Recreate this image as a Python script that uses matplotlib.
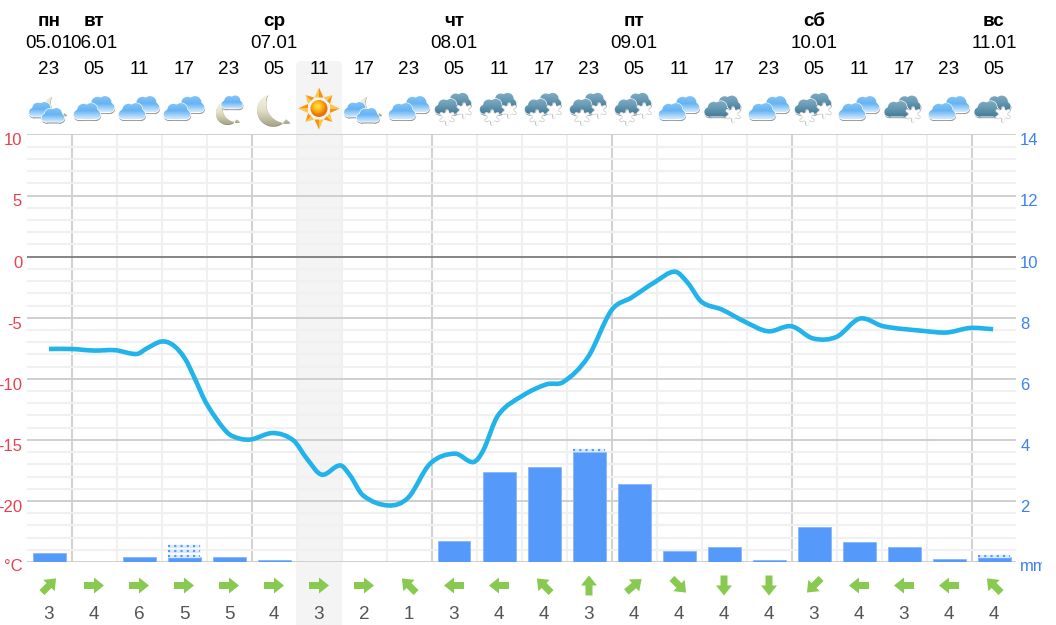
#!/usr/bin/python3

import matplotlib
matplotlib.use('Agg')
import matplotlib.pyplot as plt
from matplotlib.colors import LinearSegmentedColormap
from matplotlib.patches import FancyBboxPatch, PathPatch, Polygon, Rectangle
from matplotlib.path import Path
from matplotlib.transforms import ScaledTranslation
import numpy as np

plt.rcParams['font.family'] = ['Liberation Sans', 'DejaVu Sans']

hours = ['23', '05', '11', '17', '23', '05', '11', '17', '23', '05', '11',
         '17', '23', '05', '11', '17', '23', '05', '11', '17', '23', '05']
day_columns = [0, 1, 5, 9, 13, 17, 21]
day_names = ['пн', 'вт', 'ср', 'чт', 'пт', 'сб', 'вс']
day_dates = ['05.01', '06.01', '07.01', '08.01', '09.01', '10.01', '11.01']

icons = ['cloud_moon', 'cloud', 'cloud', 'cloud', 'moon_cloud', 'moon', 'sun',
         'cloud_moon', 'cloud', 'snow', 'snow', 'snow', 'snow', 'snow', 'cloud',
         'flake', 'cloud', 'snow', 'cloud', 'flake', 'cloud', 'flake']

# temperature: position in columns, degrees
temp_pos = [0.0, 0.50, 1.0, 1.47, 1.95, 2.17, 2.50, 2.76, 3.02, 3.24, 3.50, 3.95,
            4.24, 4.50, 4.98, 5.43, 5.73, 6.06, 6.47, 6.69, 6.98, 7.54, 7.98,
            8.47, 9.02, 9.43, 9.65, 9.98, 10.54, 11.06, 11.43, 11.98, 12.50,
            12.95, 13.47, 13.91, 14.2, 14.50, 14.95, 15.47, 15.98, 16.50,
            16.98, 17.50, 18.02, 18.54, 19.43, 19.95, 20.47, 20.98]
temp_val = [-7.56, -7.56, -7.69, -7.66, -7.97, -7.52, -6.95, -7.25, -8.34, -9.98,
            -12.03, -14.36, -14.90, -14.96, -14.44, -15.04, -16.54, -17.85,
            -17.09, -17.91, -19.55, -20.37, -19.74, -16.95, -16.13, -16.82,
            -15.86, -12.99, -11.35, -10.45, -10.26, -8.21, -4.39, -3.34, -2.07,
            -1.23, -2.17, -3.70, -4.33, -5.34, -6.11, -5.70, -6.70, -6.57, -5.07,
            -5.70, -6.08, -6.21, -5.84, -5.94]

rain_mm = [0.30, 0, 0.16, 0.15, 0.16, 0.05, 0, 0, 0, 0.69, 2.95,
           3.10, 3.60, 2.56, 0.35, 0.49, 0.05, 1.14, 0.65, 0.49, 0.10, 0.15]
# top of the dotted part (possible precipitation)
rain_max = [0.33, 0, 0.16, 0.67, 0.19, 0.05, 0, 0, 0, 0.69, 2.95,
            3.10, 3.72, 2.56, 0.35, 0.49, 0.05, 1.14, 0.65, 0.49, 0.10, 0.20]

wind_speed = [3, 4, 6, 5, 5, 4, 3, 2, 1, 3, 4, 4, 3, 4, 4, 4, 4, 3, 4, 3, 4, 4]
wind_angle = [45, 0, 0, 0, 0, 0, 0, 0, 135, 180, 180, 135, 90, 40, -45, -90, -90,
              -135, 180, 180, 180, 135]

temp_ticks = [10, 5, 0, -5, -10, -15, -20]
mm_ticks = [14, 12, 10, 8, 6, 4, 2]

W, H = 1056, 625
X0, DX = 49, 45
ICON_Y = 108


def col_x(i):
    return X0 + DX * i


fig = plt.figure(figsize=(W / 100, H / 100), dpi=100)

# pixel layer for everything around the plot
bg = fig.add_axes([0, 0, 1, 1], zorder=0)
bg.set_xlim(0, W)
bg.set_ylim(H, 0)
bg.set_autoscale_on(False)
bg.axis('off')

bg.add_patch(FancyBboxPatch((296, 61), 46, 600, boxstyle='round,pad=0,rounding_size=5',
                            fc='#f4f4f4', ec='none'))


def gradient(path, extent, colors, radial=False):
    x0, x1, y0, y1 = extent
    cmap = LinearSegmentedColormap.from_list('g', colors)
    if radial:
        yy, xx = np.mgrid[-1:1:40j, -1:1:40j]
        img = np.clip(np.hypot(xx + 0.15, yy + 0.2), 0, 1)
    else:
        img = np.linspace(0, 1, 40).reshape(-1, 1)
    im = bg.imshow(img, extent=(x0, x1, y1, y0), cmap=cmap, aspect='auto',
                   vmin=0, vmax=1, zorder=3, interpolation='bilinear')
    im.set_clip_path(PathPatch(path, transform=bg.transData))


def cloud(cx, cy, s, colors, shadow='#9a9a9a', edge='white'):
    lobes = [(-3.5, -2.5, 6.2), (4, -3, 6.4), (-8.5, 2, 4.8), (8.5, 2, 4.8)]
    parts = [Path.circle((cx + dx * s, cy + dy * s), r * s) for dx, dy, r in lobes]
    x0, x1 = cx - 8.5 * s, cx + 8.5 * s
    y0, y1 = cy - 2 * s, cy + 6.8 * s
    parts.append(Path([(x0, y0), (x1, y0), (x1, y1), (x0, y1), (x0, y0)],
                      closed=True))
    path = Path.make_compound_path(*parts)
    moved = Path(path.vertices + [0.4, 1.3], path.codes)
    bg.add_patch(PathPatch(moved, fc=shadow, ec=shadow, lw=0.6, zorder=3))
    bg.add_patch(PathPatch(path, fc=edge, ec=edge, lw=0.9, zorder=3))
    gradient(path, (cx - 14 * s, cx + 14 * s, cy - 10 * s, cy + 7 * s), colors)


BLUE = ['#86c6f8', '#66b3f3', '#cfeaff']
SLATE = ['#86aec3', '#6498b2', '#437a96']


def moon(cx, cy, s):
    # horns of the crescent, relative to the icon centre at scale 1
    a1 = np.arctan2(19, 4)
    a2 = np.arctan2(-9, -18) + 2 * np.pi
    a_in = np.linspace(a1, a2, 40)
    inner = np.c_[cx + 12 * s + 20 * s * np.cos(a_in), cy - 6 * s + 20 * s * np.sin(a_in)]
    b1 = np.arctan2(-16, -5) + 2 * np.pi
    b2 = np.arctan2(12, 17)
    a_out = np.linspace(b1, b2, 60)
    outer = np.c_[cx - s + 16 * s * np.cos(a_out), cy + s + 16 * s * np.sin(a_out)]
    verts = np.vstack([outer, inner])
    path = Path(np.vstack([verts, verts[0]]), closed=True)
    moved = Path(path.vertices + [0.3, 0.8], path.codes)
    bg.add_patch(PathPatch(moved, fc='#8f8c78', ec='none', zorder=3))
    gradient(path, (cx - 17 * s, cx + 17 * s, cy - 16 * s, cy + 18 * s),
             ['#f6f4e6', '#e3e0c8', '#a5a184'])


def sun(cx, cy):
    c = np.array([cx, cy])
    for k in range(8):
        a = np.radians(45 * k)
        tip = 21 if k % 2 == 0 else 19
        base = 11
        d = np.array([np.cos(a), np.sin(a)])
        n = np.array([-d[1], d[0]])
        bg.add_patch(Polygon([c + d * base + n * 4.5, c + d * tip, c + d * base],
                             fc='#f5920e', ec='none', zorder=3))
        bg.add_patch(Polygon([c + d * base - n * 4.5, c + d * tip, c + d * base],
                             fc='#fbc64a', ec='none', zorder=3))
    gradient(Path.circle((cx, cy), 8.5), (cx - 9, cx + 9, cy - 9, cy + 9),
             ['#ffe94d', '#ffb813', '#e8720c'], radial=True)


def snowflake(cx, cy, r):
    spokes = [np.radians(30 + 60 * k) for k in range(3)]
    bg.add_patch(PathPatch(Path.circle((cx, cy), r * 0.8), fc='#c4c4c4', ec='none', zorder=4))
    for color, lw in (('#c0c0c0', 2.8), ('white', 1.9)):
        for a in spokes:
            xs = [cx - r * np.cos(a), cx + r * np.cos(a)]
            ys = [cy - r * np.sin(a), cy + r * np.sin(a)]
            bg.plot(xs, ys, color=color, lw=lw, zorder=4, solid_capstyle='round')
    bg.add_patch(PathPatch(Path.circle((cx, cy), r * 0.7), fc='white', ec='none', zorder=4))


def draw_icon(kind, cx):
    cy = ICON_Y
    if kind == 'cloud':
        cloud(cx + 7, cy - 2.5, 1.0, BLUE)
        cloud(cx - 7, cy + 4.5, 1.0, BLUE)
    elif kind == 'cloud_moon':
        moon(cx + 7, cy - 2, 0.68)
        cloud(cx - 8, cy + 2.5, 0.9, BLUE)
        cloud(cx + 4, cy + 8, 0.85, BLUE)
    elif kind == 'moon':
        moon(cx, cy + 1, 1.0)
    elif kind == 'moon_cloud':
        moon(cx - 1, cy + 4, 0.72)
        cloud(cx + 3, cy - 5, 0.8, BLUE)
    elif kind == 'sun':
        sun(cx, cy + 0.5)
    elif kind == 'snow':
        cloud(cx + 5, cy - 6.5, 0.92, SLATE, shadow='#8aa0ac')
        cloud(cx - 7, cy - 0.5, 0.92, SLATE, shadow='#8aa0ac')
        snowflake(cx - 7, cy + 9, 6.5)
        snowflake(cx + 10, cy + 2, 6.5)
    elif kind == 'flake':
        cloud(cx + 4, cy - 3.5, 0.95, SLATE, shadow='#8aa0ac')
        cloud(cx - 7, cy + 2, 0.95, SLATE, shadow='#8aa0ac')
        snowflake(cx + 9, cy + 6, 6.5)


def draw_arrow(cx, cy, angle):
    pts = np.array([[-10, -3.5], [0, -3.5], [0, -8], [10, 0], [0, 8], [0, 3.5], [-10, 3.5]])
    a = np.radians(angle)
    rot = np.array([[np.cos(a), -np.sin(a)], [np.sin(a), np.cos(a)]])
    pts = pts @ rot.T
    bg.add_patch(Polygon(np.c_[cx + pts[:, 0], cy - pts[:, 1]], fc='#88c950', ec='none', zorder=3))


for i in range(len(hours)):
    bg.text(col_x(i), 69.5, hours[i], ha='center', va='center', fontsize=13.6, color='black')
    draw_icon(icons[i], col_x(i))
    draw_arrow(col_x(i), 585.5, wind_angle[i])
    bg.text(col_x(i), 614.5, str(wind_speed[i]), ha='center', va='center', fontsize=13.6, color='#555555')

for c, name, date in zip(day_columns, day_names, day_dates):
    bg.text(col_x(c), 22, name, ha='center', va='center', fontsize=13.6, fontweight='bold', color='black')
    bg.text(col_x(c), 44, date, ha='center', va='center', fontsize=13.6, color='black')

# the plot itself: temperature and grid underneath, bars above them
left, right, top, bottom = 27, 1016, 134.5, 562
rect = [left / W, 1 - bottom / H, (right - left) / W, (bottom - top) / H]
ax = fig.add_axes(rect, zorder=1)
ax2 = ax.twinx()
ax2.set_zorder(2)
ax.patch.set_visible(False)
ax2.patch.set_visible(False)

ax.set_xlim((left - X0) / DX, (right - X0) / DX)
ax.set_ylim(-25, 10)
ax2.set_ylim(0, 14)

for sp in list(ax.spines.values()) + list(ax2.spines.values()):
    sp.set_visible(False)

cols = np.arange(len(hours))
ax.set_xticks([0.5, 4.5, 8.5, 12.5, 16.5, 20.5])
ax.set_xticks(cols[:-1] + 0.5, minor=True)
ax.tick_params(axis='x', which='both', length=0, labelbottom=False)

ax.set_yticks(temp_ticks + [-25])
ax.set_yticklabels([str(v) for v in temp_ticks] + ['°C'], fontsize=12, color='#e8404f')
ax.set_yticks(np.arange(-25, 10, 1), minor=True)
ax.tick_params(axis='y', which='both', length=0, pad=3.5)
ax.set_axisbelow(True)
ax.grid(which='minor', color='#f0f0f0', lw=1.5)
ax.grid(axis='x', which='major', color='#d2d2d2', lw=1.5)
ax.grid(axis='y', which='major', color='#cfcfcf', lw=1.4)
ax.axhline(0, color='#808080', lw=1.3, zorder=1)

ax2.set_yticks(mm_ticks + [0])
ax2.set_yticklabels([str(v) for v in mm_ticks] + ['mm'], fontsize=12, color='#3d80f2')
ax2.tick_params(axis='y', which='both', length=0, pad=3)

shift = ScaledTranslation(0, -3.5 / 72, fig.dpi_scale_trans)
unit_shift = ScaledTranslation(0, -2 / 72, fig.dpi_scale_trans)
for lab in ax.get_yticklabels() + ax2.get_yticklabels():
    if lab.get_text() in ('°C', 'mm'):
        lab.set_transform(lab.get_transform() + unit_shift)
    else:
        lab.set_transform(lab.get_transform() + shift)

# bars, then the dotted extra on top of them
bar_w = 33 / DX
ax2.bar(cols, rain_mm, width=bar_w, color='#5599fa', edgecolor='#86b6fb', linewidth=0.6, zorder=3)
for c, low, high in zip(cols, rain_mm, rain_max):
    if high > low:
        for y in np.arange(low + 0.06, high + 0.02, 0.164):
            ax2.hlines(y, c - bar_w / 2 + 0.01, c + bar_w / 2 - 0.01, color='#dceafe', lw=2.4, zorder=3)
            ax2.hlines(y, c - bar_w / 2 + 0.01, c + bar_w / 2 - 0.01, color='#5599fa',
                       lw=1.5, linestyles=(0, (1, 2)), zorder=3)

# smooth curve through the read points (catmull-rom to bezier)
px = np.array(temp_pos)
py = np.array(temp_val)
verts = [(px[0], py[0])]
codes = [Path.MOVETO]
for k in range(len(px) - 1):
    i0 = max(k - 1, 0)
    i3 = min(k + 2, len(px) - 1)
    h = px[k + 1] - px[k]
    m1 = (py[k + 1] - py[i0]) / (px[k + 1] - px[i0])
    m2 = (py[i3] - py[k]) / (px[i3] - px[k])
    verts += [(px[k] + h / 3, py[k] + m1 * h / 3),
              (px[k + 1] - h / 3, py[k + 1] - m2 * h / 3),
              (px[k + 1], py[k + 1])]
    codes += [Path.CURVE4] * 3
ax.add_patch(PathPatch(Path(verts, codes), fc='none', ec='#21b3ea', lw=3.3,
                       capstyle='butt', joinstyle='round', zorder=5))

# "mm" is cut by the chart frame
fig.add_artist(Rectangle((1042 / W, 45 / H), 14 / W, 40 / H, fc='white', ec='none',
                         transform=fig.transFigure, zorder=10))

fig.savefig('out.png', dpi=100)
